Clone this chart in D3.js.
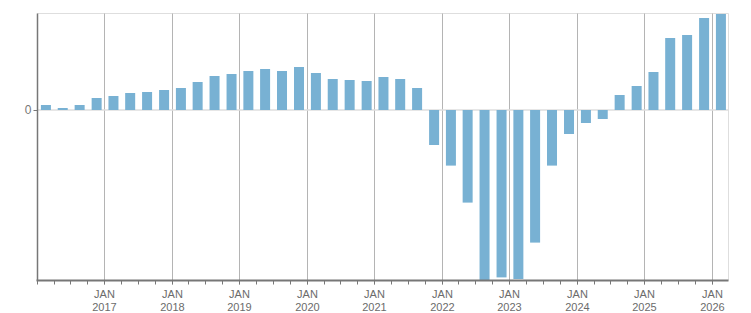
<!DOCTYPE html>
<html><head><meta charset="utf-8">
<script src="https://cdn.jsdelivr.net/npm/d3@7/dist/d3.min.js"></script>
<style>body{margin:0;background:#fff;} svg{display:block;}</style>
</head><body>
<svg id="c" width="751" height="313"></svg>
<script>
// Quarterly periods (start dates) and values
const quarters = [
 "2016-01","2016-04","2016-07","2016-10",
 "2017-01","2017-04","2017-07","2017-10",
 "2018-01","2018-04","2018-07","2018-10",
 "2019-01","2019-04","2019-07","2019-10",
 "2020-01","2020-04","2020-07","2020-10",
 "2021-01","2021-04","2021-07","2021-10",
 "2022-01","2022-04","2022-07","2022-10",
 "2023-01","2023-04","2023-07","2023-10",
 "2024-01","2024-04","2024-07","2024-10",
 "2025-01","2025-04","2025-07","2025-10",
 "2026-01"];
const values = [
 0.25,0.1,0.25,0.6,
 0.7,0.85,0.9,1.0,
 1.1,1.4,1.7,1.8,
 1.95,2.05,1.95,2.15,
 1.85,1.55,1.5,1.45,
 1.65,1.55,1.1,-1.75,
 -2.78,-4.63,-8.5,-8.37,
 -8.45,-6.63,-2.78,-1.2,
 -0.65,-0.45,0.75,1.2,
 1.9,3.6,3.75,4.6,
 4.8];
const yTickValues = [0];
const yTickLabels = ["0"];
const yearLabels = ["2017","2018","2019","2020","2021","2022","2023","2024","2025","2026"];
const monthLabel = "JAN";

const parse = d3.timeParse("%Y-%m");
const data = quarters.map((q,i)=>({start:parse(q), end:d3.timeMonth.offset(parse(q),3), v:values[i]}));

const L=37.5, R=728.5, T=13.5, B=280.5;
const x = d3.scaleTime().domain([new Date(2016,0,1), new Date(2026,2,28)]).range([L,R]);
const y = d3.scaleLinear().domain([-8.525, 4.825]).range([B,T]);
const px = d => Math.floor(x(d)-0.3)+0.5;

const svg = d3.select("#c");
const font = "'Liberation Sans', Arial, sans-serif";

// top & right border
svg.append("line").attr("x1",L).attr("x2",R).attr("y1",T).attr("y2",T).attr("stroke","#dedede").attr("stroke-width",1);
svg.append("line").attr("x1",R).attr("x2",R).attr("y1",T).attr("y2",B).attr("stroke","#dedede").attr("stroke-width",1);

// vertical year gridlines
const years = yearLabels.map(yl=>new Date(+yl,0,1));
svg.append("g").selectAll("line").data(years).join("line")
  .attr("x1",px).attr("x2",px)
  .attr("y1",T).attr("y2",B+4).attr("stroke","#b4b4b4").attr("stroke-width",1);

// zero line
svg.append("line").attr("x1",L).attr("x2",R).attr("y1",y(0)).attr("y2",y(0)).attr("stroke","#dedede").attr("stroke-width",1.5);

// bars
const bw = 10;
svg.append("g").selectAll("rect").data(data).join("rect")
  .attr("x",d=>(x(d.start)+x(d.end))/2 - bw/2)
  .attr("width",bw)
  .attr("y",d=>y(Math.max(0,d.v)))
  .attr("height",d=>Math.abs(y(d.v)-y(0)))
  .attr("fill","#78b1d3");

// bottom axis
const xAxis = d3.axisBottom(x).ticks(d3.timeMonth.every(3)).tickSize(4).tickFormat("");
const gx = svg.append("g").attr("transform",`translate(0,${B})`).call(xAxis);
gx.select(".domain").attr("stroke","#777").attr("stroke-width",2).attr("d",`M${L-1},0H${R}`);
gx.selectAll(".tick").attr("transform",d=>`translate(${px(d)},0)`);
gx.selectAll(".tick line").attr("stroke","#777");
const lab = svg.append("g").selectAll("text").data(years).join("text")
  .attr("text-anchor","middle")
  .attr("font-family",font).attr("font-size",11).attr("fill","#6b6b6b");
lab.append("tspan").attr("x",d=>px(d)).attr("y",298).text(monthLabel);
lab.append("tspan").attr("x",d=>px(d)).attr("y",311).text((d,i)=>yearLabels[i]);

// left axis
const yAxis = d3.axisLeft(y).tickValues(yTickValues).tickSize(4).tickFormat((d,i)=>yTickLabels[i]);
const gy = svg.append("g").attr("transform",`translate(${L},0)`).call(yAxis);
gy.select(".domain").attr("stroke","#777").attr("stroke-width",1.5).attr("d",`M0,${T}V${B}`);
gy.selectAll(".tick line").attr("stroke","#777");
gy.selectAll(".tick text").attr("font-family",font).attr("font-size",12).attr("fill","#777").attr("x",-6);
</script>
</body></html>
